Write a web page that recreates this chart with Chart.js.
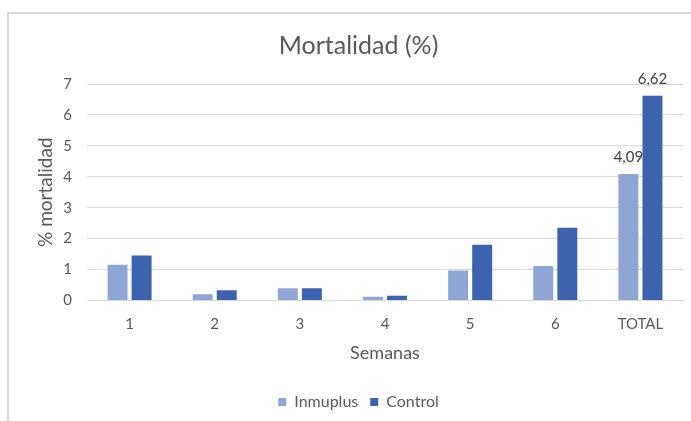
<!DOCTYPE html>
<html>
<head>
<meta charset="utf-8">
<script src="https://cdn.jsdelivr.net/npm/chart.js@4/dist/chart.umd.min.js"></script>
<style>
  html, body { margin: 0; padding: 0; background: #fff; }
  #wrap { position: relative; width: 691px; height: 421px; overflow: hidden; }
  #frame { position: absolute; left: 7px; top: 12px; width: 800px; height: 500px;
           border-top: 2px solid #d9d9d9; border-left: 2px solid #d9d9d9; }
  canvas { position: absolute; left: 0; top: 0; }
</style>
</head>
<body>
<div id="wrap">
  <div id="frame"></div>
  <canvas id="chart" width="691" height="421"></canvas>
</div>
<script>
// data
const semanas = ['1', '2', '3', '4', '5', '6', 'TOTAL'];
const inmuplus = [1.15, 0.2, 0.39, 0.12, 0.97, 1.11, 4.09];
const control = [1.45, 0.33, 0.39, 0.15, 1.8, 2.35, 6.62];
const yTicks = [0, 1, 2, 3, 4, 5, 6, 7];

const grey = '#595959';
const fontFam = 'Lato, "Open Sans", sans-serif';

// labels only on the TOTAL bars, like the original
const totalLabels = {
  id: 'totalLabels',
  afterDatasetsDraw(chart) {
    const ctx = chart.ctx;
    const last = semanas.length - 1;
    ctx.save();
    ctx.font = '15px ' + fontFam;
    ctx.fillStyle = '#404040';
    ctx.textAlign = 'center';
    ctx.textBaseline = 'bottom';
    chart.data.datasets.forEach((ds, i) => {
      const bar = chart.getDatasetMeta(i).data[last];
      const txt = ds.data[last].toFixed(2).replace('.', ',');
      ctx.fillText(txt, bar.x, bar.y - 9);
    });
    ctx.restore();
  }
};

new Chart(document.getElementById('chart'), {
  type: 'bar',
  data: {
    labels: semanas,
    datasets: [
      { label: 'Inmuplus', data: inmuplus, backgroundColor: '#8fa5d6',
        categoryPercentage: 0.565, barPercentage: 0.83 },
      { label: 'Control', data: control, backgroundColor: '#3c64ae',
        categoryPercentage: 0.565, barPercentage: 0.83 }
    ]
  },
  options: {
    responsive: false,
    animation: false,
    layout: { padding: { left: 34, right: 8, top: 0, bottom: 1 } },
    plugins: {
      title: {
        display: true,
        text: 'Mortalidad (%)',
        color: grey,
        font: { family: fontFam, size: 25, weight: 'normal' },
        padding: { top: 31, bottom: 23 }
      },
      legend: {
        position: 'bottom',
        labels: {
          color: grey,
          font: { family: fontFam, size: 16 },
          boxWidth: 8,
          boxHeight: 8,
          padding: 12
        }
      },
      tooltip: { enabled: false }
    },
    scales: {
      x: {
        grid: { display: false, drawTicks: false },
        border: { color: '#d9d9d9' },
        ticks: { color: grey, font: { family: fontFam, size: 15 }, padding: 15 },
        title: {
          display: true, text: 'Semanas', color: grey,
          font: { family: fontFam, size: 18 }, padding: { top: -6, bottom: 18 }
        }
      },
      y: {
        min: 0, max: 7,
        afterBuildTicks: (s) => { s.ticks = yTicks.map(v => ({ value: v })); },
        afterFit: (s) => { s.width = 53; },
        grid: { color: '#d9d9d9', drawTicks: false },
        border: { display: false },
        ticks: { color: grey, font: { family: fontFam, size: 15 }, padding: 15 },
        title: {
          display: true, text: '% mortalidad', color: grey,
          font: { family: fontFam, size: 19 }, padding: 0
        }
      }
    }
  },
  plugins: [totalLabels]
});
</script>
</body>
</html>
